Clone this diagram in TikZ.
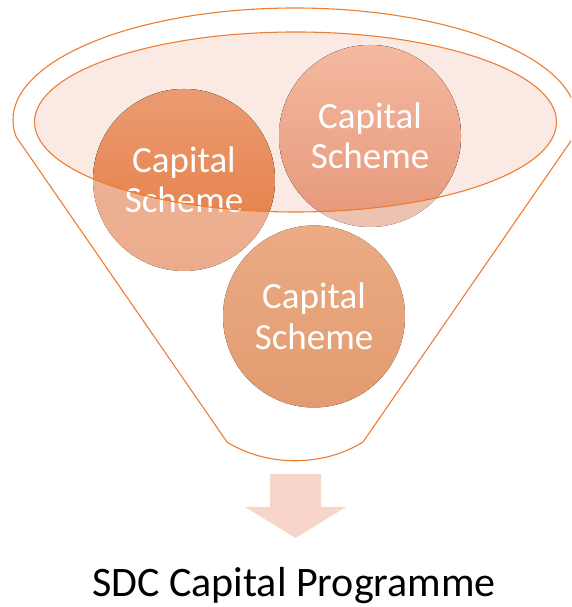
\documentclass[tikz,border=0pt]{standalone}
\usepackage{fontspec}
\setmainfont{Carlito}

\definecolor{funnelorange}{HTML}{ED7D31}
\definecolor{rimfill}{HTML}{FBE9E4}
\definecolor{arrowpeach}{HTML}{F8D5CB}

\begin{document}
\begin{tikzpicture}[x=1pt, y=1pt, line join=round,
  funnel/.style={draw=funnelorange, line width=1.1pt},
  schemetext/.style={text=white, align=center, inner sep=0pt,
    font=\fontsize{37}{40.5}\selectfont}]

\useasboundingbox (0,0) rectangle (571,607);
\clip (0,0) rectangle (571,607);

% ---------------------------
% Centres (pixel grid of the picture, y upwards)
% ---------------------------
\coordinate (O) at (295,487);    % outer rim
\coordinate (I) at (295.5,485);  % inner rim
\coordinate (L) at (184,427);    % left scheme
\coordinate (R) at (370,471);    % right scheme
\coordinate (B) at (314,290.5);  % lower scheme
\def\rc{91}

% ---------------------------
% Funnel body: outer rim, sides and rounded spout
% ---------------------------
\draw[funnel] (227,165) -- (16.25,470.06)
  arc[start angle=188.7, end angle=-8.7, x radius=282, y radius=112]
  -- (363,165)
  .. controls (323,140) and (267,140) .. (227,165) -- cycle;

% inner rim, filled
\fill[rimfill] (I) ellipse [x radius=261, y radius=90];

% ---------------------------
% Schemes (lighter where they hang below the rim)
% ---------------------------
\fill[top color={rgb,255:red,238;green,183;blue,153},
      bottom color={rgb,255:red,235;green,172;blue,140}] (L) circle (\rc);
\fill[top color={rgb,255:red,240;green,203;blue,186},
      bottom color={rgb,255:red,236;green,193;blue,175}] (R) circle (\rc);
\fill[top color={rgb,255:red,235;green,171;blue,132},
      bottom color={rgb,255:red,226;green,155;blue,112}] (B) circle (\rc);

\begin{scope}
  \clip (I) ellipse [x radius=261, y radius=90];
  \fill[top color={rgb,255:red,234;green,155;blue,114},
        bottom color={rgb,255:red,230;green,122;blue,64}] (L) circle (\rc);
  \fill[top color={rgb,255:red,244;green,185;blue,160},
        bottom color={rgb,255:red,230;green,151;blue,122}] (R) circle (\rc);
\end{scope}

\node[schemetext] (left)  at (L) {Capital\\Scheme};
\node[schemetext] (right) at (R) {Capital\\Scheme};
\node[schemetext] (lower) at (B) {Capital\\Scheme};

% rim outline over the schemes
\draw[funnel] (I) ellipse [x radius=261, y radius=90];

% ---------------------------
% Outflow arrow and result
% ---------------------------
\fill[arrowpeach] (270,133) -- (321,133) -- (321,100) -- (346,100)
  -- (295.5,69) -- (245,100) -- (270,100) -- cycle;

\node[font=\fontsize{42}{50}\selectfont, anchor=base] (prog) at (294,10)
  {SDC Capital Programme};

\end{tikzpicture}
\end{document}
